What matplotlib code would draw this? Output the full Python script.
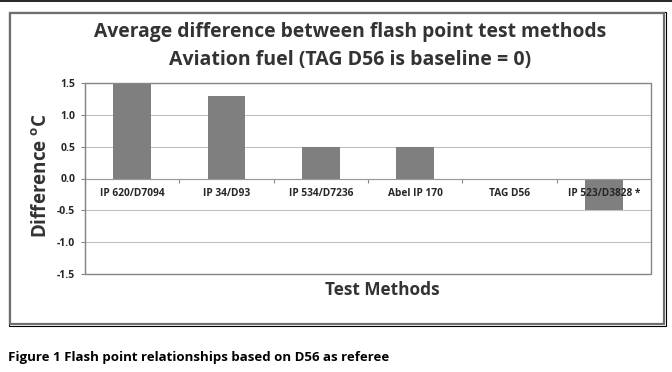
import numpy as np
import matplotlib
matplotlib.use('Agg')
import matplotlib.pyplot as plt
from matplotlib.patches import Rectangle
from matplotlib.lines import Line2D

# data
methods = ['IP 620/D7094', 'IP 34/D93', 'IP 534/D7236', 'Abel IP 170', 'TAG D56', 'IP 523/D3828 *']
diff = [1.5, 1.3, 0.5, 0.5, 0.0, -0.5]
yticks = [-1.5, -1.0, -0.5, 0.0, 0.5, 1.0, 1.5]

W, H = 672, 372

plt.rcParams['font.family'] = ['Open Sans', 'DejaVu Sans']
plt.rcParams['font.weight'] = 'bold'
plt.rcParams['mathtext.fontset'] = 'custom'
plt.rcParams['mathtext.rm'] = 'Open Sans:bold'
plt.rcParams['mathtext.bf'] = 'Open Sans:bold'


def fx(px):
    return px / W


def fy(py):
    return 1 - py / H


fig = plt.figure(figsize=(W / 100, H / 100), dpi=100)
fig.patch.set_facecolor('white')

# page line at top and the chart frame
fig.add_artist(Line2D([0, 1], [fy(0.7), fy(0.7)], color='black', lw=1.2))
fig.add_artist(Rectangle((fx(8.5), fy(325.5)), fx(657), 314 / H, fill=False,
                         edgecolor='black', lw=0.8, transform=fig.transFigure))
fig.add_artist(Rectangle((fx(10), fy(323.5)), fx(654), 311 / H, fill=False,
                         edgecolor='#6e6e6e', lw=1.6, transform=fig.transFigure))

ax = fig.add_axes([fx(85), fy(274), (651 - 85) / W, (274 - 83) / H])
x = np.arange(len(methods))
ax.bar(x, diff, width=0.4, color='#7f7f7f', zorder=2)

ax.set_xlim(-0.5, len(methods) - 0.5)
ax.set_ylim(-1.5, 1.5)
ax.set_yticks(yticks)
ax.set_yticklabels(['%.1f' % v for v in yticks])
ax.grid(axis='y', color='#c0c0c0', lw=0.8, zorder=0)
ax.set_axisbelow(True)

# plot area border, category axis on the zero line
ax.add_patch(Rectangle((0, 0), 1, 1, fill=False, edgecolor='#868686', lw=1.0,
                       transform=ax.transAxes, zorder=4, clip_on=False))
for s in ['top', 'right']:
    ax.spines[s].set_visible(False)
ax.spines['left'].set_color('#868686')
ax.spines['bottom'].set_position(('data', 0))
ax.spines['bottom'].set_color('#9a9a9a')
ax.spines['bottom'].set_linewidth(0.8)

ax.set_xticks(x[:-1] + 0.5)
ax.set_xticklabels([])
ax.tick_params(axis='x', which='major', direction='out', length=3, width=0.8, color='#868686')
ax.tick_params(axis='y', direction='out', length=3, width=0.8, color='#868686',
               pad=4, labelsize=7.5, labelcolor='#262626')

# category labels drawn above the bars, like the original
for i, m in zip(x, methods):
    ax.annotate(m, xy=(i, 0), xytext=(0, -10.8), textcoords='offset points',
                ha='center', va='center', fontsize=7.3, color='#262626', zorder=5)

fig.text(fx(350), fy(32), 'Average difference between flash point test methods',
         ha='center', va='center', size=13.9, color='#333333')
fig.text(fx(350), fy(60), 'Aviation fuel (TAG D56 is baseline = 0)',
         ha='center', va='center', size=14, color='#333333')
fig.text(fx(42), fy(176), r'Difference $^{\mathbf{o}}$C', rotation=90,
         ha='center', va='center', size=13.5, color='#333333')
fig.text(fx(382), fy(290), 'Test Methods', ha='center', va='center',
         size=12.4, color='#333333')
fig.text(fx(8), fy(357), 'Figure 1 Flash point relationships based on D56 as referee',
         ha='left', va='center', size=9.5, color='black')

fig.savefig('out.png', dpi=100, facecolor='white')
